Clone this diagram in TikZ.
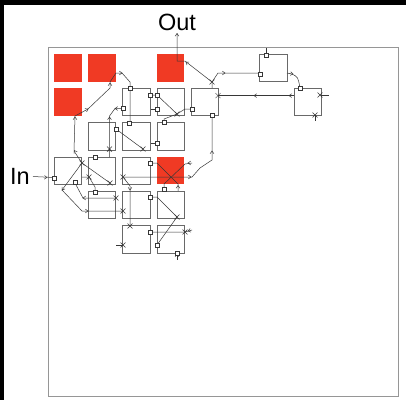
\documentclass[tikz,border=0pt]{standalone}
\usepackage{fontspec}
\setmainfont{Liberation Sans}
\usetikzlibrary{calc,shapes.misc}
\definecolor{redc}{RGB}{240,58,36}
\definecolor{boxc}{RGB}{105,105,105}
\definecolor{framec}{RGB}{150,150,150}
\definecolor{wirec}{RGB}{55,55,55}
% open arrow head sitting on a wire: #1 = a point behind, #2 = the tip
\newcommand\tipat[2]{\draw[wire] ($(#2)!3.2pt!35:(#1)$) -- (#2) -- ($(#2)!3.2pt!-35:(#1)$);}
% crossed pin mark
\newcommand\xat[1]{\node[xmk] at (#1) {};}
\begin{document}
\begin{tikzpicture}[x=1pt,y=-1pt,
  cell/.style={draw=boxc,line width=0.8pt,fill=white,minimum size=27.5pt,inner sep=0pt},
  hot/.style={fill=redc,draw=none,minimum size=27.5pt,inner sep=0pt},
  wire/.style={draw=wirec,line width=0.5pt},
  pin/.style={draw=wirec,fill=white,line width=0.45pt,minimum size=3.6pt,inner sep=0pt},
  xmk/.style={cross out,draw=wirec,minimum size=4.5pt,inner sep=0pt,line width=0.45pt},
  lbl/.style={font=\fontsize{23.5}{28}\selectfont,inner sep=0pt}]
\useasboundingbox (0,0) rectangle (406,400);
\fill[black] (0,0) rectangle (406,400);
\fill[white] (4,5) rectangle (406,400);
\draw[framec,line width=0.9pt] (48,47.5) rectangle (398,396);

% cells of the grid
\node[hot]  (b00) at (67.75,67.75) {};
\node[hot]  (b10) at (102.05,67.75) {};
\node[hot]  (b30) at (170.65,67.75) {};
\node[cell] (b60) at (273.55,67.75) {};
\node[hot]  (b01) at (67.75,102.05) {};
\node[cell] (b21) at (136.35,102.05) {};
\node[cell] (b31) at (170.65,102.05) {};
\node[cell] (b41) at (204.95,102.05) {};
\node[cell] (b71) at (307.85,102.05) {};
\node[cell] (b12) at (102.05,136.35) {};
\node[cell] (b22) at (136.35,136.35) {};
\node[cell] (b32) at (170.65,136.35) {};
\node[cell] (b03) at (67.75,170.65) {};
\node[cell] (b13) at (102.05,170.65) {};
\node[cell] (b23) at (136.35,170.65) {};
\node[hot]  (b33) at (170.65,170.65) {};
\node[cell] (b14) at (102.05,204.95) {};
\node[cell] (b24) at (136.35,204.95) {};
\node[cell] (b34) at (170.65,204.95) {};
\node[cell] (b25) at (136.35,239.25) {};
\node[cell] (b35) at (170.65,239.25) {};

% labels
\node[lbl] (out) at (177,22) {Out};
\node[lbl] (in) at (20,176.5) {In};

% wires
\draw[wire] (in.east) ++(3,0) coordinate (inA) -- (54,177.5);
\tipat{inA}{47,177.5}
\draw[wire] (82,163) -- (74,151) -- (75,116) -- (88,109) -- (110,88) -- (110,82)
  -- (116,73) -- (122,73) -- (130,82) -- (130,123);
\tipat{82,163}{74.3,150.5}
\tipat{75,130}{75,117}
\tipat{75,116}{88,109}
\tipat{110,88}{110,83}
\tipat{116,73}{122,73}
\draw[wire] (123,108.5) -- (115,108.5) -- (109.5,116) -- (109.5,157);
\tipat{123,108.5}{115,108.5}
\tipat{109.5,130}{109.5,117}
\tipat{109.5,157}{109.5,149}
\draw[wire] (116,129) -- (143,149);
\draw[wire] (151,143) -- (157,143);
\draw[wire] (151,95) -- (157,95) -- (177,114) -- (185,109) -- (192,109);
\draw[wire] (177,114) -- (164,119) -- (164,122);
\draw[wire] (157,109) -- (151,109);
\draw[wire] (212,88) -- (212,82) -- (185,61) -- (177,61) -- (out.south |- 0,33);
\tipat{212,82}{186,62}
\tipat{177,45}{177,33.5}
\draw[wire] (212,82) -- (218,73) -- (260,73);
\tipat{218,73}{225,73}
\draw[wire] (266,54) -- (266,47.5);
\draw[wire] (287,73) -- (292,74) .. controls (298,77) .. (300,88);
\tipat{287,73}{293,74}
\draw[wire] (294,95.6) -- (256,95.6);
\draw[wire] (256,95.6) -- (218,95.6);
\tipat{294,95.6}{289,95.6}
\tipat{262,95.6}{254,95.6}
\draw[wire] (321,95) -- (329,95);
\draw[wire] (315,115) -- (315,121);
\draw[wire] (123,177) -- (192,177) -- (200,168) -- (212,160) -- (212,115);
\tipat{185,177}{191,177}
\tipat{212,160}{212,151}
\draw[wire] (150,163) -- (157,163) -- (178,184) -- (178,191);
\tipat{178,191}{178,185.5}
\draw[wire] (192,163) -- (185,164) -- (164,184) -- (164,190);
\tipat{193,163}{188,163}
\draw[wire] (82,163) -- (62,190) -- (82,211) -- (123,211);
\tipat{70,179}{62,190}
\tipat{82,211}{88,211}
\draw[wire] (82,163) -- (110,183);
\draw[wire] (82,177) -- (89,177) -- (95,187) -- (95,192);
\draw[wire] (75,183) -- (83,198) -- (116,198);
\tipat{90,198}{83,198}
\draw[wire] (123,177) -- (130,186) -- (130,226);
\tipat{130,184}{130,190}
\draw[wire] (150,197) -- (157,197) -- (177,217) -- (157,245);
\draw[wire] (150,232) -- (185,232) -- (192,230);
\tipat{192,230}{188,231}
\draw[wire] (116,245) -- (123,245);
\draw[wire] (177,253) -- (177,260);
\tipat{177,260}{177,254}

% pins
\foreach \p in {{54,178},{75,182},{95,157},{95,192},{130,88},{123,108.5},{150,95},
  {157,95},{157,109},{129,123},{116,129},{164,122},{157,143},{192,109},{212,115},
  {260,74},{266,55},{300,88},{150,163},{164,189},{150,197},{150,232},
  {157,245},{177,253}}
  {\node[pin] at (\p) {};}
\foreach \p in {{82,163},{89,177},{110,183},{109.5,149},{143,149},{177,114},{212,82},
  {218,95.6},{320,95},{315,115},{123,177},{116,198},{123,211},{177,217},{130,226},
  {123,245},{185,232}}
  {\xat{\p}}
\end{tikzpicture}
\end{document}
